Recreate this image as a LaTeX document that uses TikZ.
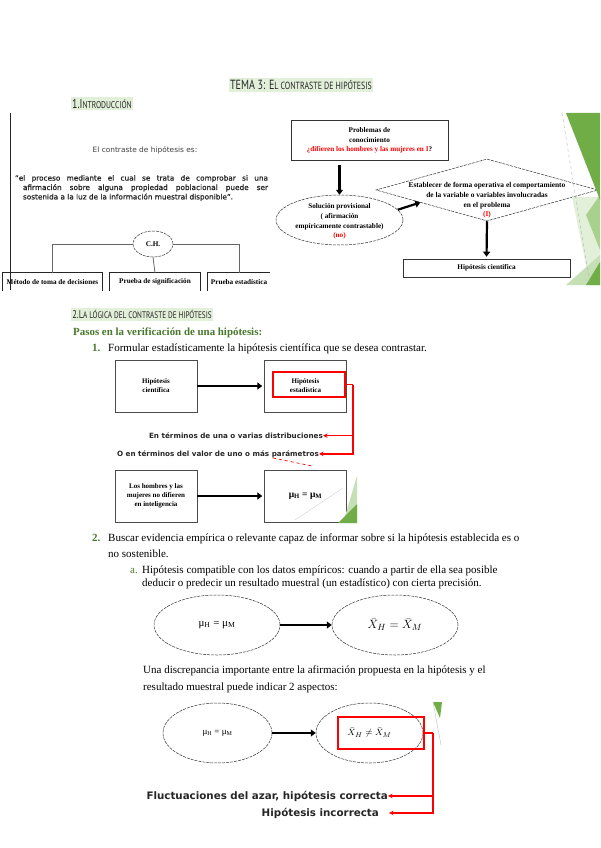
\documentclass[tikz,border=0pt]{standalone}
\usepackage{fontspec}
\setmainfont{Liberation Serif}
\newfontfamily\slidesans{DejaVu Sans}
\newfontfamily\quotesans{DejaVu Sans}[FakeBold=0.9]
\newfontfamily\headsans{PT Sans}
\usepackage{tikz}
\usetikzlibrary{positioning, arrows.meta, calc, shapes.geometric}
\definecolor{hlgreen}{RGB}{226,239,217}
\definecolor{dkgreen}{RGB}{72,120,44}
\definecolor{fgreen}{RGB}{112,173,71}
\definecolor{mgreen}{RGB}{169,209,142}
\definecolor{lgreen}{RGB}{197,224,180}
\definecolor{pgreen}{RGB}{226,240,217}
\newcommand{\headtxt}[1]{\scalebox{0.76}[1]{\headsans\color{black!85}#1}}
\tikzset{
  hl/.style    = {fill=hlgreen, inner xsep=1.5pt, inner ysep=2pt},
  txt/.style   = {anchor=base west, inner sep=0pt, font=\fontsize{11}{13}\selectfont},
  num/.style   = {anchor=base west, inner sep=0pt, font=\fontsize{11}{13}\selectfont\bfseries,
                  text=dkgreen},
  fc/.style    = {align=center, inner sep=0pt, font=\fontsize{7.2}{9.6}\selectfont\bfseries},
  sbox/.style  = {draw=black!80, rectangle, line width=0.6pt, inner sep=0pt},
  frame/.style = {draw=black!85, line width=0.7pt},
  box/.style   = {draw=black!70, rectangle, minimum width=82pt, minimum height=52pt,
                  align=center, inner sep=1pt, font=\fontsize{7}{9}\selectfont\bfseries},
  ovl/.style   = {draw=black!80, ellipse, dash pattern=on 3pt off 1pt, line width=0.5pt,
                  inner sep=0pt},
  dmd/.style   = {draw=black!80, diamond, dash pattern=on 3pt off 1pt, line width=0.5pt,
                  inner sep=0pt},
  rbox/.style  = {draw=red, rectangle, line width=1.6pt, inner sep=0pt},
  thk/.style   = {-{Triangle[length=5pt, width=7pt]}, line width=2.2pt},
  rln/.style   = {red, line width=1.4pt},
  rar/.style   = {red, line width=1.4pt, -{Stealth[length=4.5pt, width=4.5pt]}},
  lbig/.style  = {anchor=base east, inner sep=0pt,
                  font=\slidesans\bfseries\fontsize{10.3}{12}\selectfont, text=black!85},
  lmid/.style  = {anchor=base east, inner sep=0pt,
                  font=\slidesans\bfseries\fontsize{7.2}{9}\selectfont, text=black!85},
}

\begin{document}
\begin{tikzpicture}[x=1pt, y=-1pt]
  \useasboundingbox (0,0) rectangle (600,848);
  \fill[white] (0,0) rectangle (600,848);

  \node[hl] (title) at (301,85) {\headtxt{\fontsize{13.3}{13}\selectfont TEMA 3: E\fontsize{10.4}{10}\selectfont L CONTRASTE DE HIPÓTESIS}};
  \node[hl] (intro) at (102,103.5) {\headtxt{\fontsize{13}{13}\selectfont 1.I\fontsize{9.9}{10}\selectfont NTRODUCCIÓN}};

  \draw[frame] (10,113) -- (10,290);
  \node[font=\slidesans\fontsize{7.4}{9}\selectfont, text=black!75] (es) at (145,150) {El contraste de hipótesis es:};
  \node[font=\quotesans\fontsize{7.3}{9.4}\selectfont, text=black!85, text width=245pt, align=justify, inner sep=0pt] (quote) at (145.5,188)
    {\hspace*{-8pt}“el proceso mediante el cual se trata de comprobar si una\linebreak
     afirmación sobre alguna propiedad poblacional puede ser\linebreak
     sostenida a la luz de la información muestral disponible”.};
  \node[ovl, minimum width=40pt, minimum height=26pt] (ch) at (153,244) {};
  \node[fc] at (ch) {C.H.};
  \node[fc, minimum width=99pt, minimum height=18pt] (mtd) at (52.5,282) {Método de toma de decisiones};
  \node[fc, minimum width=90pt, minimum height=18pt] (sig) at (155,282) {Prueba de significación};
  \node[fc, minimum width=62pt, minimum height=18pt] (est) at (239,282) {Prueba estadística};
  \draw[frame] (mtd.south west) |- (mtd.north east) -- (mtd.south east);
  \draw[frame] (sig.south west) |- (sig.north east) -- (sig.south east);
  \draw[frame] (est.south west) |- (est.north east);
  \draw[black!60, line width=0.8pt] (ch.west) -| (mtd.north);
  \draw[black!60, line width=0.8pt] (ch.east) -| (est.north);
  \draw[black!60, line width=0.8pt] (ch.south) -- (sig.north);

  \node[sbox, minimum width=157pt, minimum height=40pt] (prob) at (369.5,140) {};
  \node[fc] at (369.5,140.5) {Problemas de\\conocimiento\\\textcolor{red}{¿difieren los hombres y las mujeres en I}?};
  \node[ovl, minimum width=127pt, minimum height=50pt] (sol) at (339.5,220) {};
  \node[fc] at (339.5,221.5) {Solución provisional\\( afirmación\\empíricamente contrastable)\\\textcolor{red}{(no)}};
  \node[dmd, minimum width=222pt, minimum height=62pt] (dia) at (487,190) {};
  \node[fc, font=\fontsize{7.4}{9.7}\selectfont\bfseries] at (487,200.5) {Establecer de forma operativa el comportamiento\\de la variable o variables involucradas\\en el problema\\\textcolor{red}{(I)}};
  \node[sbox, fc, minimum width=167pt, minimum height=18pt] (hc) at (486.5,268) {Hipótesis científica};
  \draw[thk] ($(prob.south -| sol.north)+(0,5)$) -- (sol.north);
  \draw[thk] (sol.10) -- ($(dia.west)!0.4!(dia.south)$);
  \draw[thk, shorten >=2pt] (dia.south) -- (hc.north);

  \fill[pgreen] (572,197) -- (600,197) -- (600,285) -- (590,285) -- cycle;
  \fill[mgreen] (586,215) -- (600,195) -- (600,250) -- cycle;
  \fill[fgreen] (566,113) -- (600,113) -- (600,200) -- cycle;
  \fill[lgreen] (566,285) -- (600,255) -- (600,285) -- cycle;
  \fill[fgreen] (586,285) -- (600,262) -- (600,285) -- cycle;
  \draw[black!30, dashed, line width=0.4pt] (562,113) -- (590,285);

  \node[hl] (sec2) at (142,314.5) {\headtxt{\fontsize{11.2}{11}\selectfont 2.L\fontsize{9.5}{9}\selectfont A LÓGICA DEL CONTRASTE DE HIPÓTESIS}};
  \node[txt, font=\fontsize{10.9}{12}\selectfont\bfseries, text=dkgreen] (pasos) at (73,335) {Pasos en la verificación de una hipótesis:};
  \node[num] (n1) at (92,351) {1.};
  \node[txt] (p1) at (108,351) {Formular estadísticamente la hipótesis científica que se desea contrastar.};

  \node[box] (hcien) at (156,386) {Hipótesis\\científica};
  \node[box] (hest) at (305.5,386) {Hipótesis\\estadística};
  \node[rbox, minimum width=72pt, minimum height=25pt] (rq) at (309,384.5) {};
  \draw[thk, shorten >=2pt] (hcien) -- (hest);
  \node[lmid] (dist) at (323,438.5) {En términos de una o varias distribuciones};
  \node[lmid] (par) at (319,456) {O en términos del valor de uno o más parámetros};
  \coordinate (rj) at (353,384.5);
  \draw[rln] (rq.east) -- (rj);
  \draw[rar] (rj) |- (dist.east);
  \draw[rar] (rj) |- (par.east);
  \draw[red, dashed, line width=0.7pt] (273,458) -- (312,466);

  \node[box] (hyp) at (156,496) {Los hombres y las\\mujeres no difieren\\en inteligencia};
  \node[box, font=\fontsize{9.5}{11}\selectfont\bfseries] (mu1) at (305.5,496) {μ\textsubscript{H} = μ\textsubscript{M}};
  \draw[thk, shorten >=2pt] (hyp) -- (mu1);
  \fill[lgreen] (343,523) -- (357,476) -- (357,523) -- cycle;
  \fill[fgreen] (338,523) -- (357,504) -- (357,523) -- cycle;
  \draw[black!20, line width=0.4pt] (295,520) -- (343,488);

  \node[num] (n2) at (92,541) {2.};
  \node[txt] (p2a) at (108,541) {Buscar evidencia empírica o relevante capaz de informar sobre si la hipótesis establecida es o};
  \node[txt] (p2b) at (108,557) {no sostenible.};
  \node[num, font=\fontsize{11}{13}\selectfont] (na) at (130,573) {a.};
  \node[txt] (pa1) at (142,573) {Hipótesis compatible con los datos empíricos: cuando a partir de ella sea posible};
  \node[txt] (pa2) at (142,586) {deducir o predecir un resultado muestral (un estadístico) con cierta precisión.};

  \node[ovl, minimum width=126pt, minimum height=60pt, font=\fontsize{11}{12}\selectfont] (e1) at (217,625) {μ\textsubscript{H} = μ\textsubscript{M}};
  \node[ovl, minimum width=126pt, minimum height=60pt, font=\fontsize{13}{14}\selectfont] (e2) at (395,625) {$\bar{X}_H = \bar{X}_M$};
  \draw[thk] (e1) -- (e2);

  \node[txt] (d1) at (143,673) {Una discrepancia importante entre la afirmación propuesta en la hipótesis y el};
  \node[txt] (d2) at (143,690) {resultado muestral puede indicar 2 aspectos:};

  \node[ovl, minimum width=109pt, minimum height=60pt, font=\fontsize{9}{10}\selectfont] (e3) at (217.5,733) {μ\textsubscript{H} = μ\textsubscript{M}};
  \node[ovl, minimum width=107pt, minimum height=60pt, font=\fontsize{9.5}{10}\selectfont] (e4) at (369.5,733) {$\bar{X}_H \neq \bar{X}_M$};
  \draw[thk, line width=1.8pt] (e3) -- (e4);
  \node[rbox, minimum width=86pt, minimum height=32pt] (rx) at (381,733) {};
  \fill[fgreen] (433,702) -- (442,702) -- (440,718) -- cycle;
  \draw[black!25, line width=0.4pt] (433,702) -- (441,745);
  \node[lbig] (fluc) at (388,799) {Fluctuaciones del azar, hipótesis correcta};
  \node[lbig] (inc) at (379,816) {Hipótesis incorrecta};
  \coordinate (rk) at (433,733);
  \draw[rln] (rx.east) -- (rk);
  \draw[rar] (rk) |- (fluc.east);
  \draw[rar] (rk) |- ([xshift=10pt]inc.east);
\end{tikzpicture}
\end{document}
